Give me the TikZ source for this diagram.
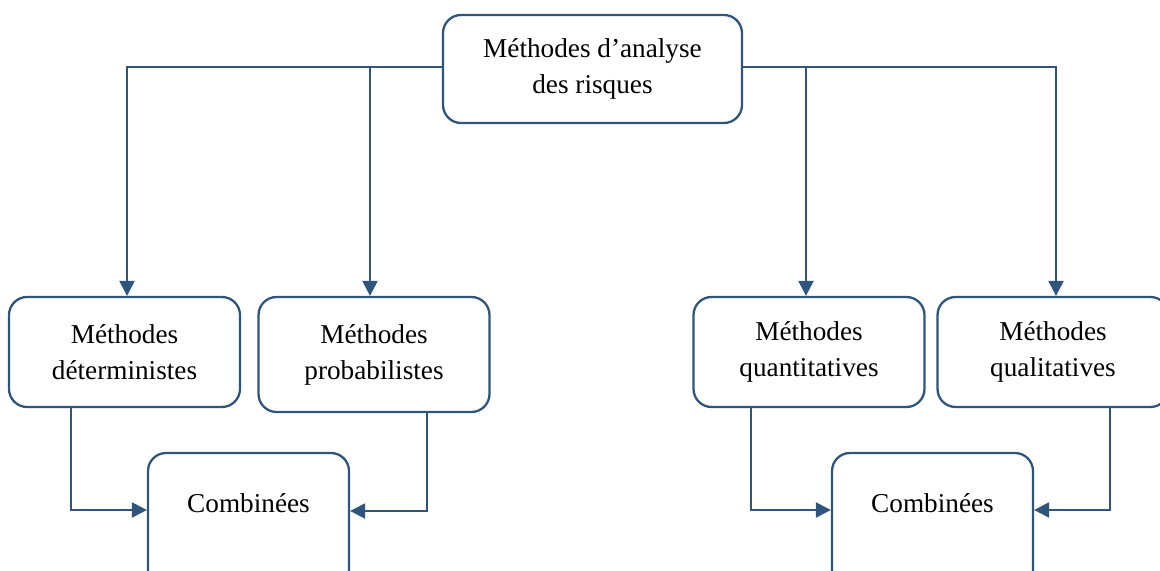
\documentclass[tikz,border=0pt]{standalone}
\usepackage{fontspec}
\setmainfont{Liberation Serif}
\usetikzlibrary{positioning,arrows.meta}
\definecolor{lienbleu}{RGB}{47,85,125}
\tikzset{>={Triangle[length=0.3cm,width=0.3cm]}}
\tikzset{
  methode/.style={draw=lienbleu, line width=1.3pt, rounded corners=0.36cm,
    align=center, inner sep=0pt, font=\fontsize{15.5}{20.5}\selectfont,
    minimum width=4.62cm, minimum height=2.2cm},
  combi/.style={methode, anchor=base, minimum width=4.02cm, minimum height=0pt,
    text height=1.18cm, text depth=2cm},
  lien/.style={draw=lienbleu, line width=1.3pt, ->}
}

\begin{document}
\begin{tikzpicture}[x=0.02cm, y=-0.02cm]
      \clip (0,0) rectangle (1160,571);

      \node[methode, minimum width=5.98cm, minimum height=2.16cm] (Analyse) at (592.5,69) {Méthodes d’analyse\\des risques};

      \node[methode] (Determ)  at (124.5,352)  {Méthodes\\déterministes};
      \node[methode, minimum height=2.3cm] (Proba) at (374,354.5) {Méthodes\\probabilistes};
      \node[methode] (Quanti)  at (809,352)    {Méthodes\\quantitatives};
      \node[methode] (Quali)   at (1053,352)   {Méthodes\\qualitatives};

      \node[combi] (CombiG) at (248.5,512) {Combinées};
      \node[combi] (CombiD) at (932.5,512) {Combinées};

      \draw[lien] ([yshift=0.04cm]Analyse.west) -| ([xshift=0.05cm]Determ.north);
      \draw[lien] ([yshift=0.04cm]Analyse.west) -| ([xshift=-0.08cm]Proba.north);
      \draw[lien] ([yshift=0.04cm]Analyse.east) -| ([xshift=-0.06cm]Quanti.north);
      \draw[lien] ([yshift=0.04cm]Analyse.east) -| ([xshift=0.06cm]Quali.north);

      \draw[lien] ([xshift=-1.07cm]Determ.south) |- ([yshift=0.04cm]CombiG.base west);
      \draw[lien] ([xshift=1.06cm]Proba.south)   |- ([yshift=0.02cm]CombiG.base east);
      \draw[lien] ([xshift=-1.16cm]Quanti.south) |- ([yshift=0.04cm]CombiD.base west);
      \draw[lien] ([xshift=1.14cm]Quali.south)   |- ([yshift=0.04cm]CombiD.base east);
    \end{tikzpicture}
\end{document}
